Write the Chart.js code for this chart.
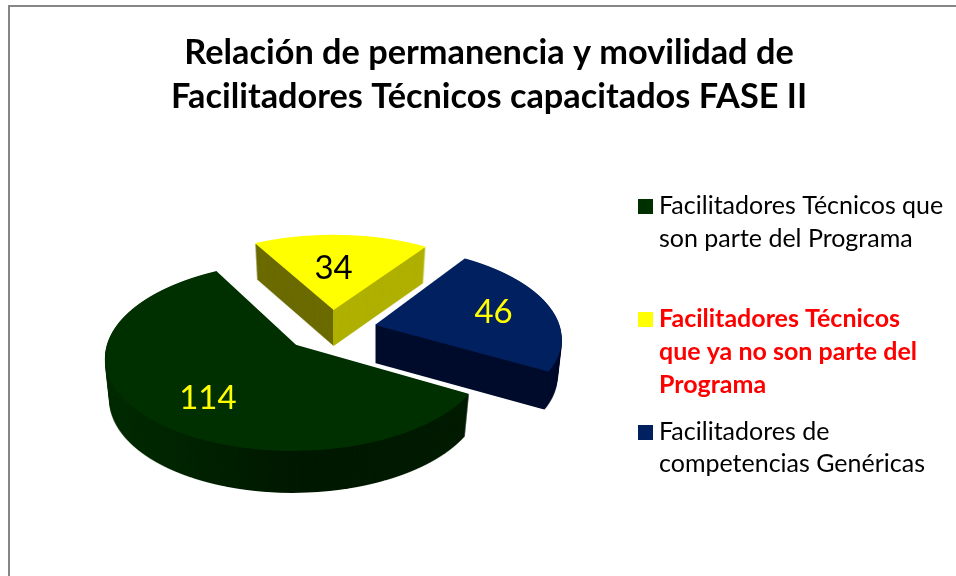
<!DOCTYPE html>
<html><head><meta charset="utf-8">
<script src="https://cdn.jsdelivr.net/npm/chart.js@4"></script>
<style>
html,body{margin:0;padding:0;background:#fff;overflow:hidden;width:956px;height:576px}
#frame{position:absolute;left:8px;top:5px;width:1000px;height:1000px;border:2px solid #868686;box-sizing:border-box}
#c{position:absolute;left:0;top:0}
</style></head><body>
<div id="frame"></div>
<canvas id="c" width="978" height="576"></canvas>
<script>
const titleLines = ['Relación de permanencia y movilidad de', 'Facilitadores Técnicos capacitados FASE II'];
const categories = ['Facilitadores Técnicos que son parte del Programa', 'Facilitadores Técnicos que ya no son parte del Programa', 'Facilitadores de competencias Genéricas'];
const values = [114, 34, 46];
const sliceColors = ['#003000', '#FFFF00', '#002060'];
const labelColors = ['#FFFF00', '#000000', '#FFFF00'];
const legendLines = [['Facilitadores Técnicos que', 'son parte del Programa'], ['Facilitadores Técnicos', 'que ya no son parte del', 'Programa'], ['Facilitadores de', 'competencias Genéricas']];

// view of the tilted pie
const view = {cx: 323, cy: 334, sx: 186, sy: 90, persp: 0.12, shrink: 0.024};
const explode = [0.2, 0.3, 0.3];
const nudge = [[0, -2], [8, 2], [-2, -3]];
const depth = [42, 36, 38];
const labelRadius = [0.7, 0.5, 0.66];
const labelShift = [[14, 5], [-4, -2], [3, 0]];
const wallStops = [
  [[105, '#002c00'], [300, '#001800'], [470, '#001c00']],
  [[332.5, '#6b6b00'], [333.5, '#b0b000']],
  [[375, '#000c2c'], [560, '#000c2c']]
];
const drawOrder = [1, 2, 0];
const legendStyle = {box: 638, text: 659, size: 15, font: 25,
  boxTop: [199, 312, 425], base: [[214, 247], [327, 360, 393], [440, 472]],
  color: ['#000000', '#FF0000', '#000000'], weight: ['400', '700', '400']};

function project(arc, i, fx, fy) {
  const mid = (arc.startAngle + arc.endAngle) / 2;
  const U = explode[i] * Math.cos(mid) + fx, V = explode[i] * Math.sin(mid) + fy;
  const w = 1 - view.persp * V;
  return [view.cx + nudge[i][0] + view.sx * U / w, view.cy + nudge[i][1] + view.sy * V / w];
}
function faceCanvas(chart, arc, i) {
  const cv = document.createElement('canvas');
  cv.width = chart.width; cv.height = chart.height;
  const g = cv.getContext('2d');
  const R = arc.outerRadius, mid = (arc.startAngle + arc.endAngle) / 2;
  const ex = explode[i] * Math.cos(mid), ey = explode[i] * Math.sin(mid);
  for (let y = 0; y < cv.height; y++) {
    const Yr = y + 0.5 - view.cy - nudge[i][1];
    const V = Yr / (view.sy + view.persp * Yr);
    if (V < ey - 1.05 || V > ey + 1.05) continue;
    const w = 1 - view.persp * V;
    const a = view.sx / (R * w), d = view.sy / (w * w * R);
    const pv = arc.y + (V - ey) * R;
    g.save();
    g.beginPath(); g.rect(0, y, cv.width, 1); g.clip();
    g.setTransform(a, 0, 0, d, view.cx + nudge[i][0] + a * (R * ex - arc.x), y + 0.5 - d * pv);
    arc.draw(g);
    g.restore();
  }
  return cv;
}
function wallCanvas(face, i) {
  const cv = document.createElement('canvas');
  cv.width = face.width; cv.height = face.height;
  const g = cv.getContext('2d');
  g.drawImage(face, 0, 0);
  g.globalCompositeOperation = 'source-in';
  const st = wallStops[i], x0 = st[0][0], x1 = st[st.length - 1][0];
  const lg = g.createLinearGradient(x0, 0, x1, 0);
  st.forEach(s => lg.addColorStop((s[0] - x0) / (x1 - x0), s[1]));
  g.fillStyle = lg; g.fillRect(0, 0, cv.width, cv.height);
  return cv;
}
const pie3d = {
  id: 'pie3d',
  beforeDatasetsDraw(chart) {
    const ctx = chart.ctx, arcs = chart.getDatasetMeta(0).data;
    drawOrder.forEach(i => {
      const arc = arcs[i], face = faceCanvas(chart, arc, i), wall = wallCanvas(face, i);
      const tip = project(arc, i, 0, 0);
      for (let k = depth[i]; k >= 1; k--) {
        const s = 1 - view.shrink * k / depth[i];
        ctx.drawImage(wall, tip[0] * (1 - s), k, face.width * s, face.height);
      }
      ctx.drawImage(face, 0, 0);
    });
    return false;
  },
  afterDraw(chart) {
    const ctx = chart.ctx, arcs = chart.getDatasetMeta(0).data;
    ctx.save();
    ctx.textAlign = 'center'; ctx.textBaseline = 'middle';
    ctx.font = '33px Lato';
    arcs.forEach((arc, i) => {
      const mid = (arc.startAngle + arc.endAngle) / 2;
      const p = project(arc, i, labelRadius[i] * Math.cos(mid), labelRadius[i] * Math.sin(mid));
      ctx.fillStyle = labelColors[i];
      ctx.fillText(String(values[i]), p[0] + labelShift[i][0], p[1] + labelShift[i][1]);
    });
    ctx.textAlign = 'left'; ctx.textBaseline = 'alphabetic';
    legendLines.forEach((lines, i) => {
      ctx.fillStyle = sliceColors[i];
      ctx.fillRect(legendStyle.box, legendStyle.boxTop[i], legendStyle.size, legendStyle.size);
      ctx.fillStyle = legendStyle.color[i];
      ctx.font = legendStyle.weight[i] + ' ' + legendStyle.font + 'px Lato';
      lines.forEach((t, j) => ctx.fillText(t, legendStyle.text, legendStyle.base[i][j]));
    });
    ctx.restore();
  }
};
new Chart(document.getElementById('c'), {
  type: 'pie',
  data: {labels: categories, datasets: [{data: values, backgroundColor: sliceColors, borderWidth: 0}]},
  options: {
    responsive: false, animation: false, rotation: 119.7,
    layout: {padding: {top: 0, left: 0, right: 0, bottom: 60}},
    plugins: {
      legend: {display: false}, tooltip: {enabled: false},
      title: {display: true, text: titleLines, color: '#000000',
        font: {family: 'Lato', size: 34.3, weight: '700', lineHeight: 1.283}, padding: {top: 31, bottom: 10}}
    }
  },
  plugins: [pie3d]
});
</script>
</body></html>
